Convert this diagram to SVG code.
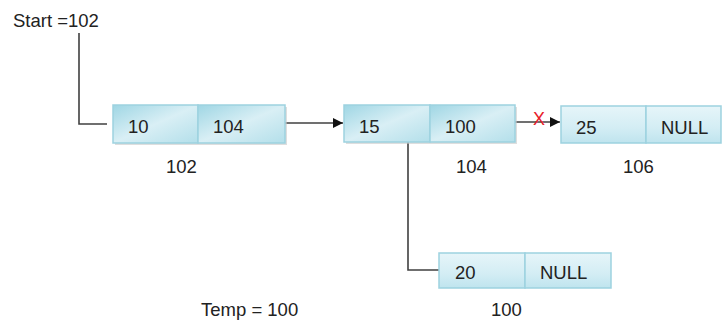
<svg xmlns="http://www.w3.org/2000/svg" width="723" height="322" viewBox="0 0 723 322">
  <defs>
    <linearGradient id="cellFill" x1="0" y1="0" x2="1" y2="1">
      <stop offset="0" stop-color="#9fd6e4"/>
      <stop offset="0.5" stop-color="#d9eff5"/>
      <stop offset="1" stop-color="#b3dfea"/>
    </linearGradient>
    <linearGradient id="cellFillLight" x1="0" y1="0" x2="0" y2="1">
      <stop offset="0" stop-color="#e6f5f9"/>
      <stop offset="0.6" stop-color="#d3edf4"/>
      <stop offset="1" stop-color="#bfe4ee"/>
    </linearGradient>
    <marker id="arrow" viewBox="0 0 10 10" refX="10" refY="5" markerWidth="10" markerHeight="10" markerUnits="userSpaceOnUse" orient="auto">
      <path d="M0,0 L10,5 L0,10 z" fill="#111"/>
    </marker>
  </defs>
  <style>
    text { font-family: "Liberation Sans", Arial, sans-serif; font-size: 18.5px; fill: #222; }
    .cell { fill: url(#cellFill); stroke: #9dd2df; stroke-width: 1.5; }
    .cell-light { fill: url(#cellFillLight); stroke: #9dd2df; stroke-width: 1.5; }
    .shadow { fill: #c8c8c8; opacity: 0.6; }
    .wire { fill: none; stroke: #404040; stroke-width: 1.6; }
  </style>
  <rect width="723" height="322" fill="#ffffff"/>

  <text x="13" y="27">Start =102</text>
  <text x="201" y="316">Temp = 100</text>

  <g id="connectors">
    <polyline class="wire" points="79,33 79,124 107,124"/>
    <line class="wire" x1="285" y1="123" x2="343" y2="123" stroke="#111" marker-end="url(#arrow)"/>
    <line class="wire" x1="515" y1="122" x2="560" y2="122" stroke="#111" marker-end="url(#arrow)"/>
    <polyline class="wire" points="408,142 408,270 439,270"/>
    <text x="533" y="125" style="fill:#e8202a;font-size:18px">X</text>
  </g>

  <g id="node-102">
    <rect class="shadow" x="115" y="107" width="172" height="38"/>
    <rect class="cell" x="113" y="105" width="85" height="38"/>
    <rect class="cell" x="198" y="105" width="87" height="38"/>
    <text x="128" y="133">10</text>
    <text x="213" y="133">104</text>
    <text x="166" y="173">102</text>
  </g>

  <g id="node-104">
    <rect class="shadow" x="346" y="107" width="171" height="37"/>
    <rect class="cell" x="344" y="105" width="86" height="37"/>
    <rect class="cell" x="430" y="105" width="85" height="37"/>
    <text x="359" y="133">15</text>
    <text x="445" y="133">100</text>
    <text x="456" y="173">104</text>
  </g>

  <g id="node-106">
    <rect class="cell-light" x="561" y="106" width="85" height="37"/>
    <rect class="cell-light" x="646" y="106" width="75" height="37"/>
    <text x="576" y="134">25</text>
    <text x="661" y="134">NULL</text>
    <text x="623" y="173">106</text>
  </g>

  <g id="node-100">
    <rect class="cell-light" x="439" y="253" width="86" height="35"/>
    <rect class="cell-light" x="525" y="253" width="86" height="35"/>
    <text x="455" y="279">20</text>
    <text x="540" y="279">NULL</text>
    <text x="491" y="316">100</text>
  </g>
</svg>
